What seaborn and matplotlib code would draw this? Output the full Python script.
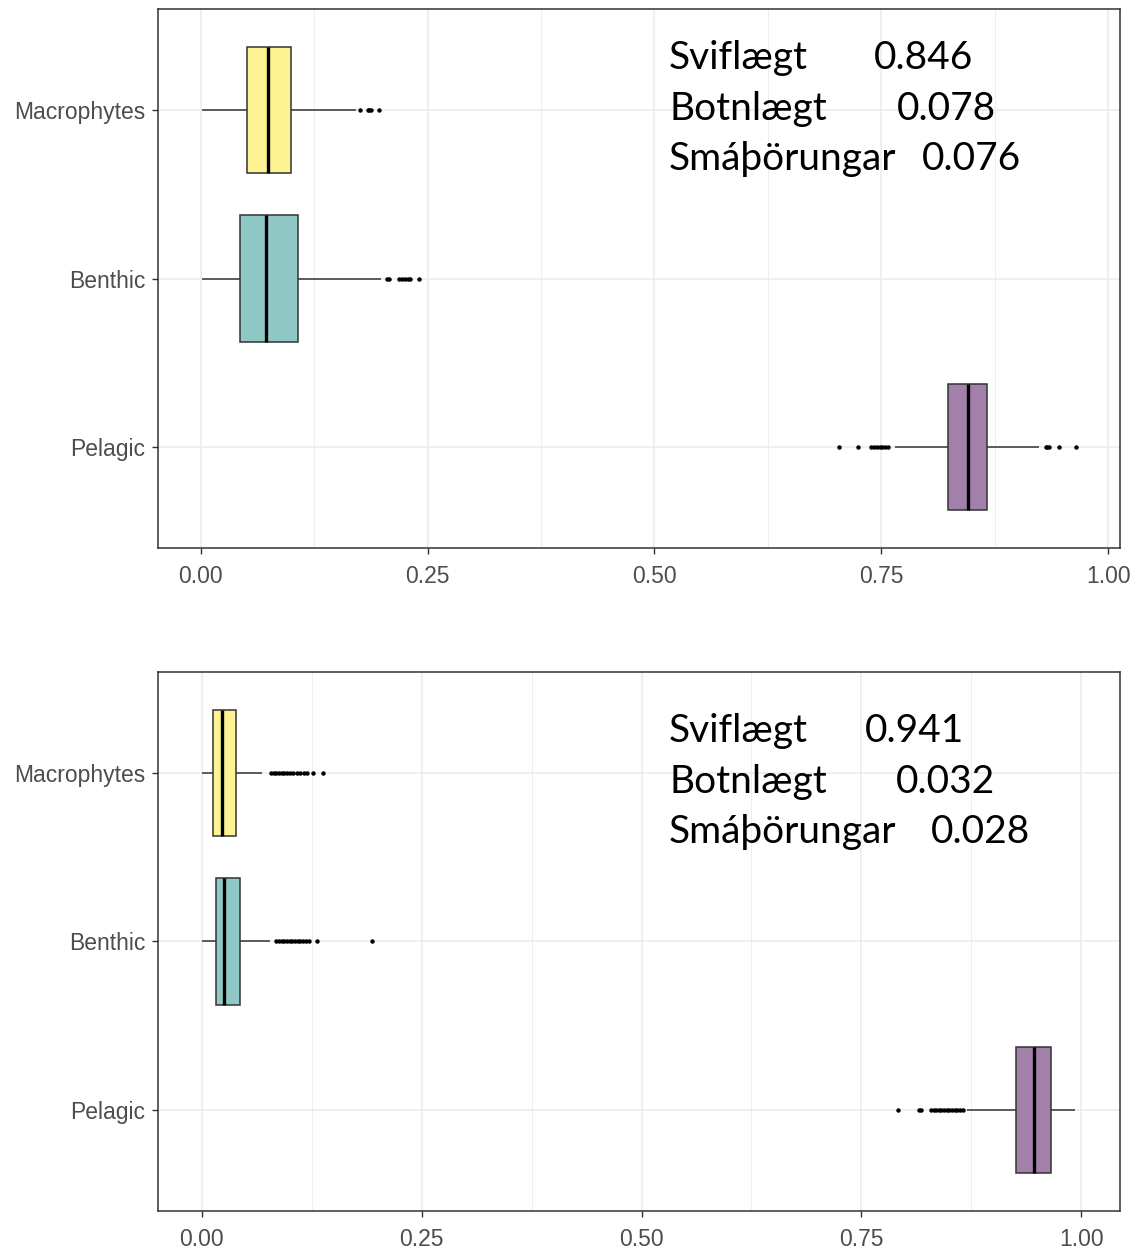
import numpy as np
import pandas as pd
import matplotlib
matplotlib.use("Agg")
import matplotlib.pyplot as plt
import seaborn as sns

# ---------------- data ----------------
categories = ["Macrophytes", "Benthic", "Pelagic"]
box_colors = ["#FEF392", "#90C8C6", "#A280AA"]
tick_values = [0.0, 0.25, 0.50, 0.75, 1.0]
tick_labels = ["0.00", "0.25", "0.50", "0.75", "1.00"]

# top panel
p1_lo = [0.002, 0.002, 0.765]
p1_q1 = [0.051, 0.043, 0.824]
p1_med = [0.0745, 0.072, 0.845]
p1_q3 = [0.100, 0.107, 0.866]
p1_hi = [0.171, 0.199, 0.924]
p1_out = [
    [0.176, 0.184, 0.186, 0.188, 0.196],
    [0.205, 0.207, 0.219, 0.222, 0.225, 0.228, 0.231, 0.241],
    [0.703, 0.724, 0.739, 0.742, 0.745, 0.748, 0.751, 0.754, 0.757,
     0.931, 0.933, 0.935, 0.946, 0.964],
]
p1_labels = ["Sviflægt", "Botnlægt", "Smáþörungar"]
p1_values = ["0.846", "0.078", "0.076"]

# bottom panel
p2_lo = [0.0, 0.0, 0.870]
p2_q1 = [0.013, 0.016, 0.926]
p2_med = [0.0235, 0.025, 0.9466]
p2_q3 = [0.039, 0.043, 0.9655]
p2_hi = [0.068, 0.078, 0.993]
p2_out = [
    [0.079, 0.082, 0.085, 0.088, 0.091, 0.094, 0.097, 0.100, 0.104,
     0.108, 0.112, 0.116, 0.120, 0.126, 0.138],
    [0.085, 0.088, 0.091, 0.094, 0.097, 0.100, 0.103, 0.106, 0.109,
     0.112, 0.115, 0.118, 0.122, 0.131, 0.194],
    [0.792, 0.815, 0.818, 0.829, 0.832, 0.835, 0.838, 0.841, 0.844,
     0.847, 0.850, 0.853, 0.856, 0.859, 0.862, 0.865],
]
p2_labels = ["Sviflægt", "Botnlægt", "Smáþörungar"]
p2_values = ["0.941", "0.032", "0.028"]


def build_frame(lo, q1, med, q3, hi, out, k=60):
    """Long table whose quartiles / whiskers / fliers reproduce the read values."""
    rows = []
    for i, cat in enumerate(categories):
        vals = [lo[i]] + [q1[i]] * k + [med[i]] * k + [q3[i]] * k + [hi[i]] + list(out[i])
        rows += [(cat, v) for v in vals]
    return pd.DataFrame(rows, columns=["group", "value"])


# ---------------- style ----------------
sns.set_theme(style="white")
plt.rcParams["font.family"] = ["Liberation Sans", "DejaVu Sans"]

W, H = 1135, 1249
fig = plt.figure(figsize=(W / 100, H / 100), dpi=100)


def px_axes(left, top, right, bottom):
    return fig.add_axes([left / W, 1 - bottom / H, (right - left) / W, (bottom - top) / H])


def draw_panel(ax, df, xlim):
    sns.boxplot(
        data=df, x="value", y="group", hue="group", order=categories,
        hue_order=categories, palette=box_colors, saturation=1, legend=False,
        width=0.75, whis=1.5, linecolor="#333333", linewidth=1.1,
        fliersize=2.2, ax=ax, showcaps=False,
        medianprops=dict(color="black", linewidth=2.4),
        flierprops=dict(marker="o", markerfacecolor="black",
                        markeredgecolor="black", markersize=2.2),
    )
    ax.set_xlim(*xlim)
    ax.set_ylim(2.6, -0.6)
    ax.set_xticks(tick_values)
    ax.set_xticklabels(tick_labels)
    ax.set_xticks([0.125, 0.375, 0.625, 0.875], minor=True)
    ax.set_xlabel("")
    ax.set_ylabel("")
    ax.set_axisbelow(True)
    ax.grid(True, which="major", axis="both", color="#EBEBEB", linewidth=1.1)
    ax.grid(True, which="minor", axis="x", color="#EBEBEB", linewidth=0.6)
    for s in ax.spines.values():
        s.set_visible(True)
        s.set_color("#333333")
        s.set_linewidth(1.1)
    ax.tick_params(axis="both", which="major", length=4, width=1.0,
                   color="#333333", labelcolor="#4D4D4D", labelsize=16.5,
                   bottom=True, left=True, pad=5)
    ax.tick_params(axis="x", which="major", pad=8)
    ax.tick_params(axis="x", which="minor", length=0)


ax1 = px_axes(158, 9, 1120, 548)
draw_panel(ax1, build_frame(p1_lo, p1_q1, p1_med, p1_q3, p1_hi, p1_out), (-0.047, 1.013))

ax2 = px_axes(158, 672, 1120, 1211)
draw_panel(ax2, build_frame(p2_lo, p2_q1, p2_med, p2_q3, p2_hi, p2_out), (-0.0497, 1.044))

# ---------------- overlay texts ----------------
text_font = ["Lato", "DejaVu Sans"]


def overlay(labels, values, label_x, value_xs, baselines):
    for lab, val, vx, by in zip(labels, values, value_xs, baselines):
        fig.text(label_x / W, 1 - by / H, lab, fontsize=28, family=text_font,
                 color="black", va="baseline", ha="left")
        fig.text(vx / W, 1 - by / H, val, fontsize=28, family=text_font,
                 color="black", va="baseline", ha="left")


overlay(p1_labels, p1_values, 669, [874, 897, 922], [69, 120, 170])
overlay(p2_labels, p2_values, 669, [865, 896, 931], [742, 793, 843])

fig.savefig("out.png", dpi=100)
